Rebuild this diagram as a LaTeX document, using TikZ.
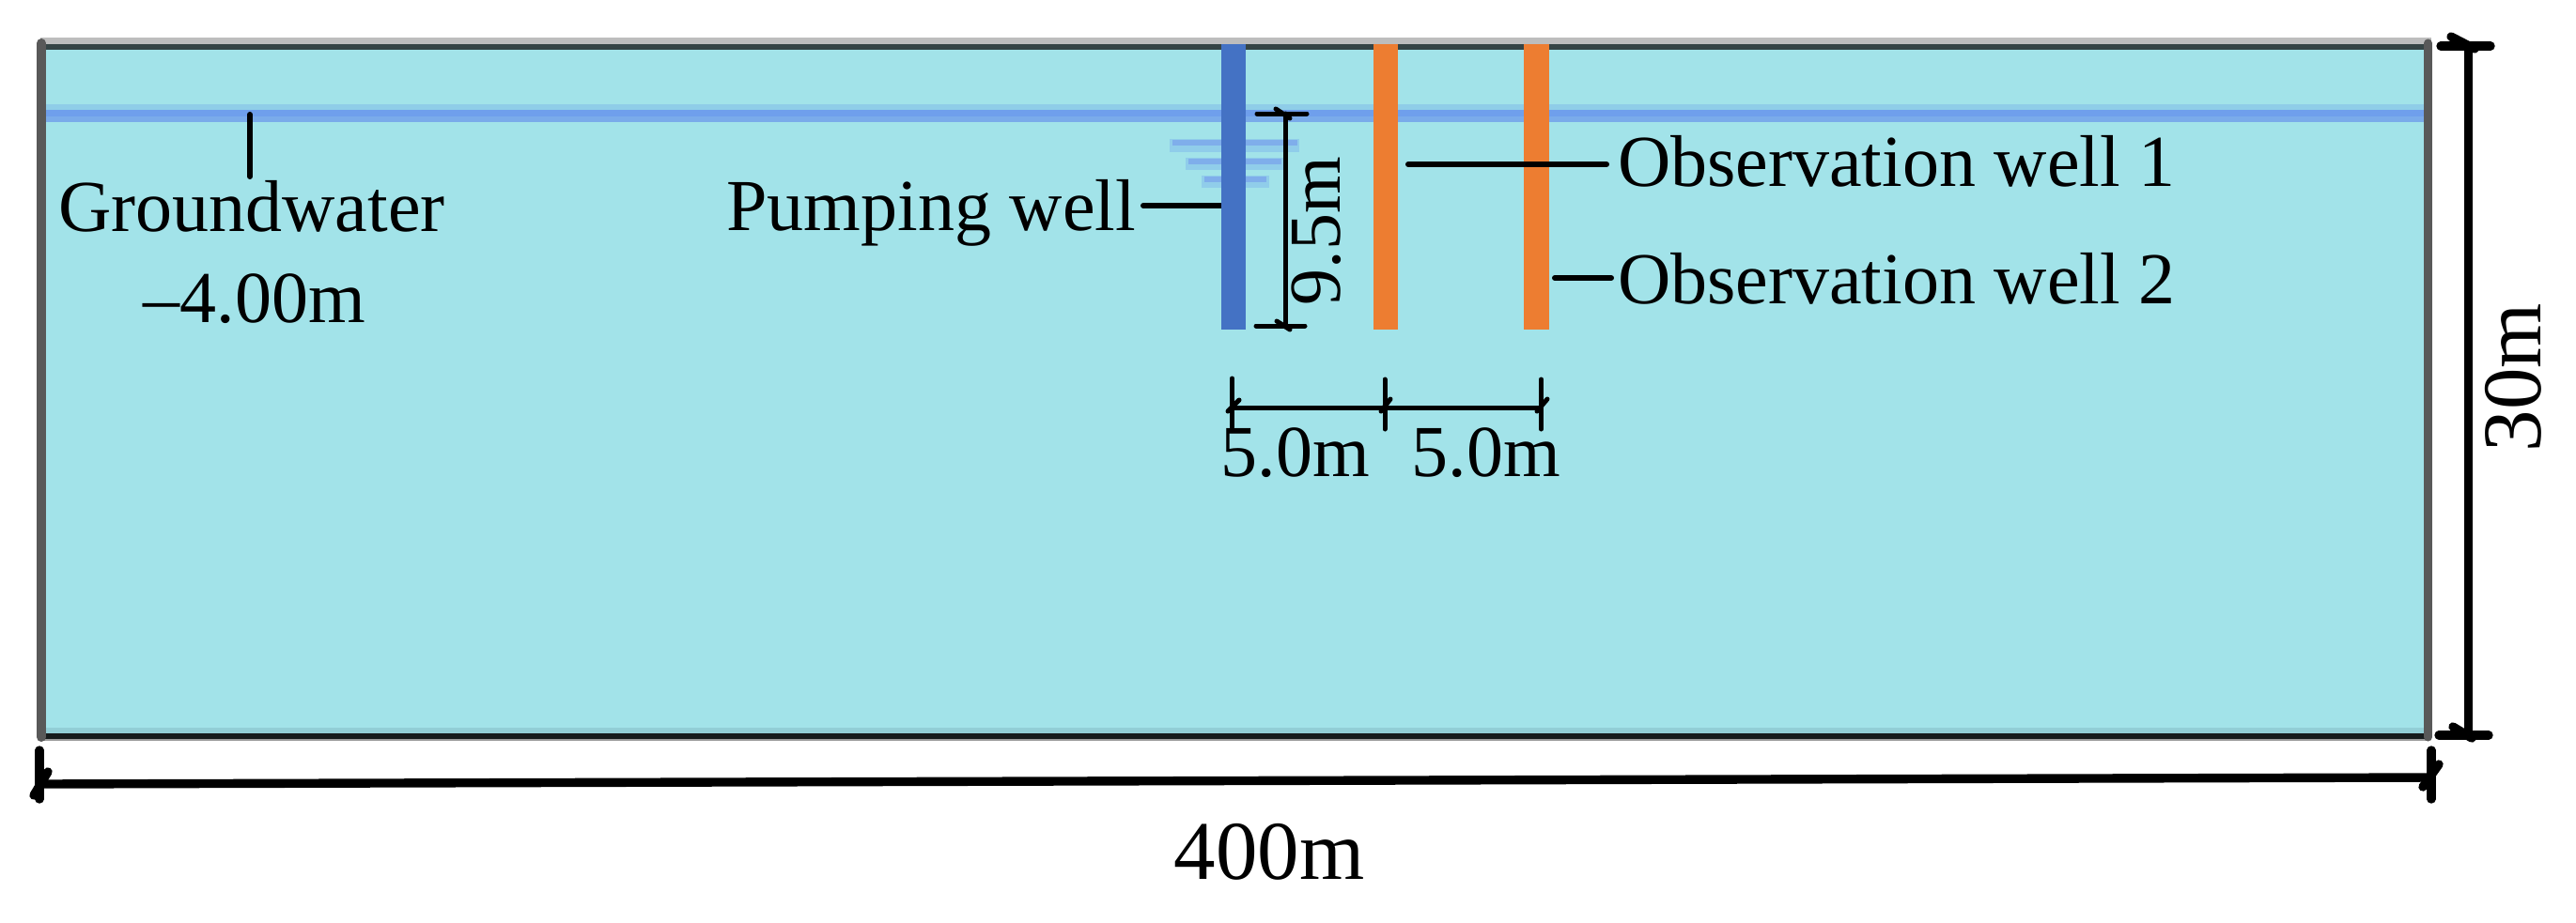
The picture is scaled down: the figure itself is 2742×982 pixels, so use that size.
\documentclass[tikz,border=0pt]{standalone}
\usepackage{fontspec}
\setmainfont{Liberation Serif}
\definecolor{soil}{HTML}{A2E3E9}
\definecolor{frameg}{HTML}{595959}
\definecolor{topg}{HTML}{BDBDBD}
\definecolor{topd}{HTML}{354445}
\definecolor{botl}{HTML}{92CED6}
\definecolor{botd}{HTML}{161B1C}
\definecolor{wedge}{HTML}{8FCDE8}
\definecolor{wcore}{HTML}{6F9FEC}
\definecolor{wlow}{HTML}{7AABEA}
\definecolor{lvl}{HTML}{7FAEEB}
\definecolor{lvledge}{HTML}{90CDEA}
\definecolor{pump}{HTML}{4472C4}
\definecolor{obs}{HTML}{ED7D31}
\tikzset{
  x=0.5pt,y=-0.5pt,
  lab/.style={inner sep=0pt,outer sep=0pt,font=\fontsize{39pt}{39pt}\selectfont,text=black},
  bigl/.style={inner sep=0pt,outer sep=0pt,font=\fontsize{44.5pt}{44.5pt}\selectfont,text=black},
  leader/.style={draw=black,line width=3pt,line cap=round},
  thindim/.style={draw=black,line width=2.5pt,line cap=round},
  thickdim/.style={draw=black,line width=4.7pt,line cap=round}
}
\begin{document}
\begin{tikzpicture}
\useasboundingbox (0,0) rectangle (2742,982);
% ground body
\fill[soil] (44,47) rectangle (2585,787);
\fill[topg] (43,40) rectangle (2588,47);
\fill[topd] (44,47) rectangle (2585,53);
\fill[botl] (44,775) rectangle (2585,781);
\fill[botd] (44,781) rectangle (2585,787);
\fill[frameg!60!white] (44,787) rectangle (2585,788.5);
% water table
\fill[wedge] (49,111) rectangle (2580,117);
\fill[wcore] (49,117) rectangle (2580,124);
\fill[wlow] (49,124) rectangle (2580,130);
% frame sides
\draw[frameg,line width=5pt,line cap=round] (44,46) -- (44,785);
\draw[frameg,line width=4.5pt,line cap=round] (2584.5,46) -- (2584.5,785);
% water level symbol
\fill[lvledge] (1245,148) rectangle (1383,162);
\fill[lvl] (1248,149) rectangle (1381,155);
\fill[lvledge] (1262,168) rectangle (1366,181);
\fill[lvl] (1265,169) rectangle (1364,175);
\fill[lvledge] (1279,187) rectangle (1351,200);
\fill[lvl] (1282,188) rectangle (1348,194);
% wells
\fill[pump] (1300,47) rectangle (1326,351);
\fill[obs] (1462,47) rectangle (1488,351);
\fill[obs] (1622,47) rectangle (1649,351);
% labels
\node[lab,anchor=base] (gw) at (268,246) {Groundwater};
\node[lab,anchor=base] (gwv) at (271,343) {–4.00m};
\node[lab,anchor=base east] (pw) at (1209,245) {Pumping well};
\node[lab,anchor=base west] (ow1) at (1722,198) {Observation well 1};
\node[lab,anchor=base west] (ow2) at (1722,323) {Observation well 2};
\node[lab,anchor=base,rotate=90] (d95) at (1426,246) {9.5m};
\node[lab,anchor=base] (d5a) at (1379,507) {5.0m};
\node[lab,anchor=base] (d5b) at (1582,507) {5.0m};
\node[bigl,anchor=base] (d400) at (1351,936) {400m};
\node[bigl,anchor=base,rotate=90] (d30) at (2704,402) {30m};
% leaders
\coordinate (gwt) at (266,122);
\coordinate (gwb) at (266,188);
\coordinate (pwa) at (1217,219);
\coordinate (pwb) at (1300,219);
\coordinate (oa) at (1499,175);
\coordinate (ob) at (1710,175);
\coordinate (pa) at (1655,296);
\coordinate (pb) at (1715,296);
\draw[leader] (gwt) -- (gwb);
\draw[leader,line cap=butt] (pwb) -- (pwa);
\fill (pwa) circle (1.5pt);
\draw[leader] (oa) -- (ob);
\draw[leader] (pa) -- (pb);
% 9.5 m dimension
\coordinate (n1) at (1368,121);
\coordinate (n2) at (1368,347);
\draw[thindim] (n1) -- (n2);
\draw[thindim] (1338,121) -- (1391,121);
\draw[thindim] (1337,347) -- (1389,347);
\draw[thindim] (1358,116) -- (1373,126);
\draw[thindim] (1359,342) -- (1373,351);
% 5.0 m dimensions
\coordinate (h1) at (1312,434);
\coordinate (h2) at (1474,434);
\coordinate (h3) at (1640,434);
\draw[thindim,line cap=butt] (h1) -- (h2) -- (h3);
\draw[thindim] (1311.5,403) -- (1311.5,455);
\draw[thindim] (1474,404) -- (1474,457);
\draw[thindim] (1640.5,404) -- (1640.5,457);
\draw[thindim] (1307,438) -- (1319,426);
\draw[thindim] (1470,438) -- (1480,425);
\draw[thindim] (1636,438) -- (1647,425);
% 30 m dimension
\coordinate (v1) at (2627.5,49);
\coordinate (v2) at (2627.5,783);
\draw[thickdim,line cap=butt] (v1) -- (v2);
\draw[thickdim] (2598,49) -- (2651,49);
\draw[thickdim] (2609,39) -- (2634,52);
\draw[thickdim] (2596,783) -- (2649,783);
\draw[thickdim] (2611,774) -- (2631,786);
% 400 m dimension
\coordinate (b1) at (42,835);
\coordinate (b2) at (2588,828);
\draw[thickdim,line cap=butt] (b1) -- (b2);
\draw[thickdim] (42,799) -- (42,851);
\draw[thickdim] (2588,799) -- (2588,851);
\draw[thickdim] (51,822) -- (36,847);
\draw[thickdim] (2596,814) -- (2579,838);
\end{tikzpicture}
\end{document}
